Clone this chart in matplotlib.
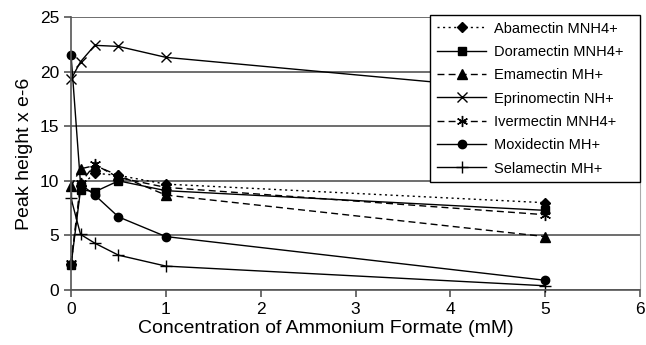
import matplotlib
matplotlib.use("Agg")
import matplotlib.pyplot as plt

plt.rcParams['font.family'] = ['Liberation Sans', 'DejaVu Sans']

conc = [0, 0.1, 0.25, 0.5, 1, 5]
abamectin = [2.4, 9.5, 10.7, 10.5, 9.7, 8.0]
doramectin = [2.3, 9.2, 9.0, 10.0, 9.1, 7.3]
emamectin = [9.5, 11.1, 11.4, 10.5, 8.7, 4.9]
eprinomectin = [19.3, 20.9, 22.4, 22.3, 21.3, 18.1]
ivermectin = [2.5, 9.8, 11.5, 10.3, 9.4, 6.9]
moxidectin = [21.5, 9.7, 8.7, 6.7, 4.9, 0.9]
selamectin = [8.4, 5.1, 4.3, 3.2, 2.2, 0.4]

names = ["Abamectin MNH4+", "Doramectin MNH4+", "Emamectin MH+",
         "Eprinomectin NH+", "Ivermectin MNH4+", "Moxidectin MH+", "Selamectin MH+"]
series = [abamectin, doramectin, emamectin, eprinomectin, ivermectin, moxidectin, selamectin]
styles = [
    dict(ls=(0, (1.5, 2.5)), marker='D', ms=5),
    dict(ls='-', marker='s', ms=5.5),
    dict(ls=(0, (5, 3)), marker='^', ms=6.5),
    dict(ls='-', marker='x', ms=7, mew=1.0),
    dict(ls=(0, (5, 3)), marker=(6, 2, 0), ms=8, mew=1.0),
    dict(ls='-', marker='o', ms=6),
    dict(ls='-', marker='+', ms=8, mew=1.0),
]

fig = plt.figure(figsize=(6.46, 3.45), dpi=100)
ax = fig.add_axes([0.110, 0.159, 0.881, 0.792])

for name, vals, st in zip(names, series, styles):
    ax.plot(conc, vals, color='black', lw=1.0, label=name, clip_on=False,
            markerfacecolor='black', markeredgecolor='black', **st)

ax.set_xlim(0, 6)
ax.set_ylim(0, 25)
ax.set_xticks(range(0, 7))
ax.set_yticks(range(0, 26, 5))
ax.yaxis.grid(True, color='#555555', lw=1.2)
ax.set_axisbelow(True)
ax.spines['top'].set_visible(False)
ax.spines['right'].set_color('#aaaaaa')
ax.spines['left'].set_color('#555555')
ax.spines['bottom'].set_color('#555555')
ax.spines['left'].set_linewidth(1.2)
ax.spines['bottom'].set_linewidth(1.2)
ax.tick_params(axis='both', labelsize=12.5, direction='out', length=5, color='#555555', width=1.2)
ax.set_xlabel("Concentration of Ammonium Formate (mM)", fontsize=14)
ax.xaxis.set_label_coords(0.448, -0.108)
ax.set_ylabel("Peak height x e-6", fontsize=14, labelpad=5)

leg = ax.legend(loc='upper left', bbox_to_anchor=(0.631, 1.007, 0.369, 0), mode='expand',
                fontsize=10.5, frameon=True, fancybox=False, framealpha=1,
                edgecolor='black', handlelength=3.4, labelspacing=0.64,
                borderaxespad=0, borderpad=0.45, handletextpad=0.5)
leg.get_frame().set_linewidth(1.0)

fig.savefig("out.png", dpi=100)
